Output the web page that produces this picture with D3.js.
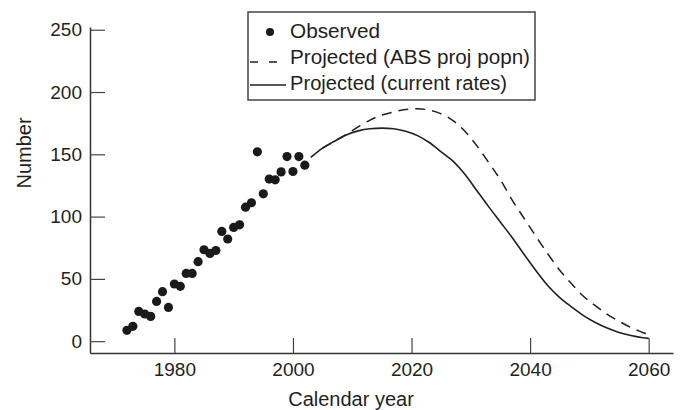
<!DOCTYPE html>
<html>
<head>
<meta charset="utf-8">
<script src="https://cdn.jsdelivr.net/npm/d3@7"></script>
<style>
  body { margin: 0; background: #fff; }
  text { font-family: "Liberation Sans", Arial, sans-serif; fill: #231f20; }
</style>
</head>
<body>
<script>
// Observed counts by calendar year
var obsYears = [1972, 1973, 1974, 1975, 1976, 1977, 1978, 1979, 1980, 1981,
  1982, 1983, 1984, 1985, 1986, 1987, 1988, 1989, 1990, 1991,
  1992, 1993, 1994, 1995, 1996, 1997, 1998, 1999, 2000, 2001, 2002];
var obsValues = [8.7, 11.9, 23.9, 21.8, 19.9, 31.9, 39.7, 27.1, 45.9, 44.0,
  54.4, 54.4, 63.8, 73.4, 70.4, 72.8, 88.1, 82.0, 91.3, 93.4,
  107.6, 111.1, 152.0, 118.3, 130.1, 129.5, 135.9, 148.2, 136.2, 148.2, 141.3];

// Projection at current rates (solid)
var curYears = [2003, 2005, 2007, 2009, 2011, 2013, 2015, 2017, 2019, 2021,
  2023, 2025, 2027, 2029, 2031, 2033, 2035, 2037, 2039, 2041,
  2043, 2045, 2047, 2049, 2051, 2053, 2055, 2057, 2059, 2060];
var curValues = [147.5, 155, 160.5, 165.5, 168.8, 170.5, 171, 170.5, 168.5, 165,
  159.5, 152, 144.5, 134, 121, 108, 95.5, 83, 69.5, 56.5,
  44.5, 35, 27.5, 20.5, 15, 10.5, 7, 4.5, 2.8, 2.2];

// Projection with ABS projected population (dashed)
var absYears = [2005, 2007, 2009, 2011, 2013, 2015, 2017, 2019, 2021, 2023,
  2025, 2027, 2029, 2031, 2033, 2035, 2037, 2039, 2041, 2043,
  2045, 2047, 2049, 2051, 2053, 2055, 2057, 2059, 2060];
var absValues = [155, 160.5, 166, 172, 177.5, 181.5, 184, 186, 186.5, 185.5,
  182.5, 177, 168.5, 157, 143.5, 129.5, 113, 98.5, 84, 70,
  57, 46, 36, 28.5, 21.5, 16, 11, 7, 5];

var xTicks = [1980, 2000, 2020, 2040, 2060];
var yTicks = [0, 50, 100, 150, 200, 250];
var legendLabels = ["Observed", "Projected (ABS proj popn)", "Projected (current rates)"];

var svgWidth = 683;
var svgHeight = 410;
var margin = { top: 27, right: 10, bottom: 57, left: 90 };
var chartWidth = svgWidth - margin.left - margin.right;
var chartHeight = svgHeight - margin.top - margin.bottom;

var svg = d3.select("body")
  .append("svg")
  .attr("width", svgWidth)
  .attr("height", svgHeight);

var chartGroup = svg.append("g")
  .attr("transform", `translate(${margin.left}, ${margin.top})`);

var xScale = d3.scaleLinear()
  .domain([1965.77, 2064.1])
  .range([0, chartWidth]);

var yScale = d3.scaleLinear()
  .domain([-9.5, 252.2])
  .range([chartHeight, 0]);

// axes with inward ticks
var leftAxis = d3.axisLeft(yScale).tickValues(yTicks).tickSize(-15).tickPadding(23).tickSizeOuter(0);
var bottomAxis = d3.axisBottom(xScale).tickValues(xTicks).tickFormat(d3.format("d"))
  .tickSize(-15).tickPadding(24).tickSizeOuter(0);

var yAxisG = chartGroup.append("g").call(leftAxis);
var xAxisG = chartGroup.append("g")
  .attr("transform", `translate(0, ${chartHeight})`)
  .call(bottomAxis);

[yAxisG, xAxisG].forEach(function(g) {
  g.select(".domain").attr("stroke", "#333").attr("stroke-width", 1.5);
  g.selectAll(".tick line").attr("stroke", "#444").attr("stroke-width", 1.2);
  g.selectAll(".tick text")
    .attr("font-size", 19)
    .attr("font-family", "Liberation Sans, Arial, sans-serif")
    .attr("fill", "#231f20");
});
xAxisG.selectAll(".tick text").attr("dy", "0.71em").attr("y", 10);
yAxisG.selectAll(".tick text").attr("x", -8);

// projection curves
var line = d3.line()
  .x(d => xScale(d[0]))
  .y(d => yScale(d[1]))
  .curve(d3.curveMonotoneX);

chartGroup.append("path")
  .datum(absYears.map((y, i) => [y, absValues[i]]))
  .attr("fill", "none")
  .attr("stroke", "#231f20")
  .attr("stroke-width", 1.5)
  .attr("stroke-dasharray", "10,7")
  .attr("d", line);

chartGroup.append("path")
  .datum(curYears.map((y, i) => [y, curValues[i]]))
  .attr("fill", "none")
  .attr("stroke", "#231f20")
  .attr("stroke-width", 1.6)
  .attr("d", line);

// observed points
chartGroup.selectAll(".dot")
  .data(obsYears.map((y, i) => [y, obsValues[i]]))
  .enter()
  .append("circle")
  .attr("class", "dot")
  .attr("cx", d => xScale(d[0]))
  .attr("cy", d => yScale(d[1]))
  .attr("r", 4.6)
  .attr("fill", "#1a1a1a");

// axis titles
svg.append("text")
  .attr("x", 351)
  .attr("y", 406)
  .attr("text-anchor", "middle")
  .attr("font-size", 20)
  .text("Calendar year");

svg.append("text")
  .attr("transform", "translate(31, 153) rotate(-90)")
  .attr("text-anchor", "middle")
  .attr("font-size", 20)
  .text("Number");

// legend
var legend = svg.append("g").attr("transform", "translate(248, 12)");
legend.append("rect")
  .attr("width", 287)
  .attr("height", 88)
  .attr("fill", "#fff")
  .attr("stroke", "#444")
  .attr("stroke-width", 1.5);

legend.append("circle").attr("cx", 22).attr("cy", 20).attr("r", 4).attr("fill", "#1a1a1a");
legend.append("line").attr("x1", 2).attr("x2", 39).attr("y1", 50).attr("y2", 50)
  .attr("stroke", "#231f20").attr("stroke-width", 1.5).attr("stroke-dasharray", "8,11");
legend.append("line").attr("x1", 2).attr("x2", 38).attr("y1", 73).attr("y2", 73)
  .attr("stroke", "#231f20").attr("stroke-width", 1.5);

var legendWidths = [90, 240, 217];
legend.selectAll(".leg-text")
  .data(legendLabels)
  .enter()
  .append("text")
  .attr("class", "leg-text")
  .attr("x", 42)
  .attr("y", (d, i) => 26 + i * 26)
  .attr("font-size", 20)
  .attr("textLength", (d, i) => legendWidths[i])
  .attr("lengthAdjust", "spacingAndGlyphs")
  .text(d => d);
</script>
</body>
</html>
